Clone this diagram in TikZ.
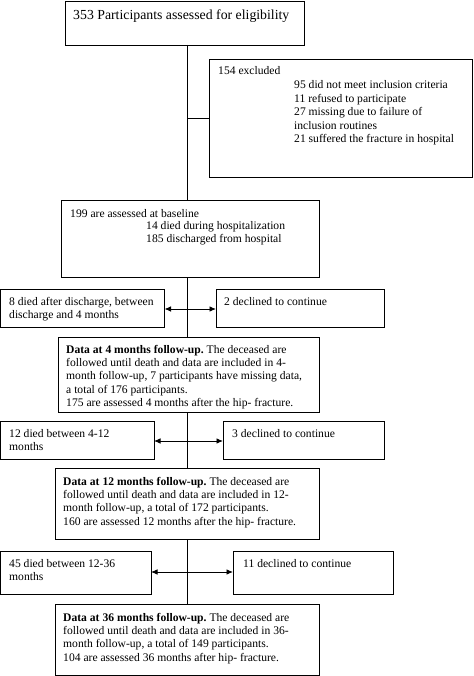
\documentclass[tikz,border=0pt]{standalone}
\usepackage{fontspec}
\setmainfont{Liberation Serif}
\usetikzlibrary{arrows.meta}
\frenchspacing
\begin{document}
\begin{tikzpicture}[x=1pt,y=-1pt,
  box/.style={draw,line width=0.9pt,anchor=north west,inner sep=0pt,outer sep=0pt},
  txt/.style={anchor=base west,inner sep=0pt,align=left,font=\fontsize{11.6}{13.4}\selectfont},
  big/.style={anchor=base west,inner sep=0pt,font=\fontsize{13.8}{16}\selectfont},
  conn/.style={line width=0.9pt},
  dbl/.style={line width=0.9pt,{Latex[length=6.5pt,width=5.5pt]}-{Latex[length=6.5pt,width=5.5pt]}}]
\useasboundingbox (0,0) rectangle (473,676);
% boxes
\node[box,minimum width=239pt,minimum height=44pt] (b1) at (65,1) {};
\node[box,minimum width=263pt,minimum height=118pt] (ex) at (209,59) {};
\node[box,minimum width=258pt,minimum height=77pt] (base) at (61,200) {};
\node[box,minimum width=164pt,minimum height=38pt] (d4) at (0.5,289) {};
\node[box,minimum width=168pt,minimum height=38pt] (c4) at (216,289) {};
\node[box,minimum width=261pt,minimum height=75pt] (m4) at (58,337) {};
\node[box,minimum width=153.5pt,minimum height=38pt] (d12) at (0.5,421) {};
\node[box,minimum width=161pt,minimum height=38pt] (c12) at (223,421) {};
\node[box,minimum width=264pt,minimum height=71pt] (m12) at (55,468) {};
\node[box,minimum width=150.5pt,minimum height=43pt] (d36) at (0.5,551) {};
\node[box,minimum width=160pt,minimum height=43pt] (c36) at (233,551) {};
\node[box,minimum width=264pt,minimum height=71pt] (m36) at (55,604) {};
% texts (multi-line nodes are placed by the baseline of their last line)
\node[big] (t1) at (73,19.5) {353 Participants assessed for eligibility};
\node[txt] (tex) at (218,75) {154 excluded};
\node[txt] (tex2) at (294,142.6) {95 did not meet inclusion criteria\\11 refused to participate\\27 missing due to failure of\\inclusion routines\\21 suffered the fracture in hospital};
\node[txt] (tb) at (70,217) {199 are assessed at baseline};
\node[txt] (tb2) at (146,242.4) {14 died during hospitalization\\185 discharged from hospital};
\node[txt] (td4) at (9,318.4) {8 died after discharge, between\\discharge and 4 months};
\node[txt] (tc4) at (224,305) {2 declined to continue};
\node[txt] (tm4) at (66,406.6) {\textbf{Data at 4 months follow-up.} The deceased are\\followed until death and data are included in 4-\\month follow-up, 7 participants have missing data,\\a total of 176 participants.\\175 are assessed 4 months after the hip- fracture.};
\node[txt] (td12) at (9,450.4) {12 died between 4-12\\months};
\node[txt] (tc12) at (232,437) {3 declined to continue};
\node[txt] (tm12) at (63,525.2) {\textbf{Data at 12 months follow-up.} The deceased are\\followed until death and data are included in 12-\\month follow-up, a total of 172 participants.\\160 are assessed 12 months after the hip- fracture.};
\node[txt] (td36) at (9,580.4) {45 died between 12-36\\months};
\node[txt] (tc36) at (243,567) {11 declined to continue};
\node[txt] (tm36) at (63,661.2) {\textbf{Data at 36 months follow-up.} The deceased are\\followed until death and data are included in 36-\\month follow-up, a total of 149 participants.\\104 are assessed 36 months after hip- fracture.};
% connectors
\coordinate (j1) at (187,118);
\draw[conn] (b1.south -| j1) -- (base.north -| j1);
\draw[conn] (j1) -- (ex.west |- j1);
\draw[conn] (base.south -| j1) -- (m4.north -| j1);
\draw[conn] (m4.south -| j1) -- (m12.north -| j1);
\draw[conn] (m12.south -| j1) -- (m36.north -| j1);
\coordinate (a4) at (187,309);
\coordinate (a12) at (187,441);
\coordinate (a36) at (187,572);
\draw[dbl] (d4.east |- a4) -- (c4.west |- a4);
\draw[dbl] (d12.east |- a12) -- (c12.west |- a12);
\draw[dbl] (d36.east |- a36) -- (c36.west |- a36);
\end{tikzpicture}
\end{document}
